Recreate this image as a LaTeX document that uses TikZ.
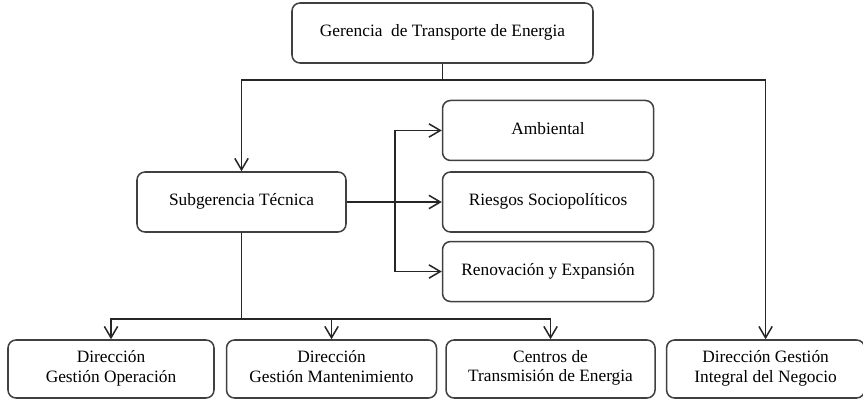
\documentclass[tikz,border=0pt]{standalone}
\usepackage{fontspec}
\setmainfont{Liberation Serif}
\usetikzlibrary{positioning, arrows.meta}

\tikzset{
  unit/.style={draw=black!75, line width=1.3pt, rounded corners=0.24cm,
    minimum height=1.8cm, align=center, inner sep=2pt,
    font=\fontsize{14.8}{17}\selectfont,
    execute at begin node=\strut, execute at end node=\strut},
  arr/.style={-{Straight Barb[length=3.4mm, width=4mm]}},
  link/.style={draw=black!85, line width=1.3pt}
}

\begin{document}
\begin{tikzpicture}
      \useasboundingbox (0,0) rectangle (25.89,-12.06);
      % top level
      \node [unit, minimum width=9.03cm] (ger) at (13.275,-0.99) {Gerencia\ \ de Transporte de Energia};
      \node [unit, minimum width=6.27cm] (sub) at (7.245,-6.06) {Subgerencia Técnica};
      % staff units
      \node [unit, minimum width=6.33cm, right=2.85cm of sub] (rie) {Riesgos Sociopolíticos};
      \node [unit, minimum width=6.33cm, above=0.3cm of rie] (amb) {Ambiental};
      \node [unit, minimum width=6.33cm, below=0.24cm of rie] (ren) {Renovación y Expansión};
      % bottom row
      \node [unit, minimum width=6.18cm, minimum height=1.74cm] (dgo) at (3.33,-11.07) {Dirección\\Gestión Operación};
      \node [unit, minimum width=6.3cm, minimum height=1.74cm, right=0.33cm of dgo] (dgm) {Dirección\\Gestión Mantenimiento};
      \node [unit, minimum width=6.27cm, minimum height=1.74cm, right=0.24cm of dgm] (cte) {Centros de\\Transmisión de Energia};
      \node [unit, minimum width=5.94cm, minimum height=1.74cm, right=0.3cm of cte] (dgi) {Dirección Gestión\\Integral del Negocio};

      \coordinate (gsplit) at ([yshift=-0.48cm]ger.south);
      \coordinate (rsplit) at ([xshift=-1.41cm]rie.west);
      \coordinate (bsplit) at ([yshift=-2.58cm]sub.south);

      \draw [link] (ger) -- (gsplit);
      \draw [link, arr] (gsplit) -| (sub);
      \draw [link, arr] (gsplit) -| (dgi);
      \draw [link, arr] (sub) -- (rie);
      \draw [link, arr] (rsplit) |- (amb);
      \draw [link, arr] (rsplit) |- (ren);
      \draw [link] (sub) -- (bsplit);
      \draw [link, arr] (bsplit) -| (dgo);
      \draw [link, arr] (bsplit) -| (dgm);
      \draw [link, arr] (bsplit) -| (cte);
    \end{tikzpicture}
\end{document}
